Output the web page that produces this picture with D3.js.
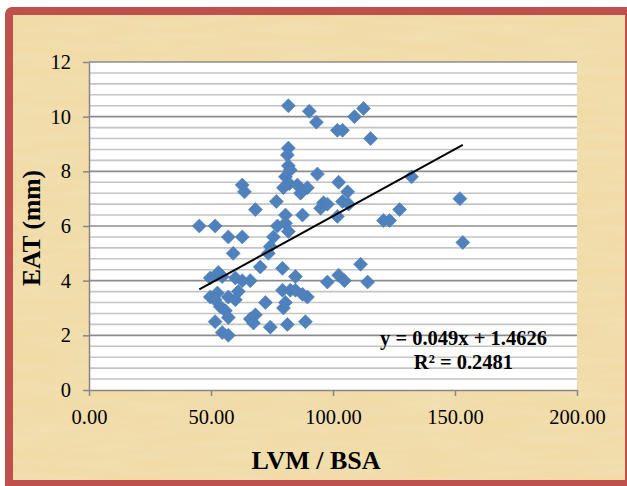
<!DOCTYPE html>
<html><head><meta charset="utf-8">
<script src="https://cdn.jsdelivr.net/npm/d3@7"></script>
<style>html,body{margin:0;padding:0;background:#fff;}svg{display:block;}</style>
</head><body>
<svg id="c" width="627" height="486"></svg>
<script>
// ---- data ----
const xValues = [81.7,90.3,93.2,101.8,103.9,108.8,112.5,115.4,81.7,81.3,81.7,82.5,80.5,82.1,79.7,62.8,63.7,85.4,86.7,89.5,
  76.8,68.2,80.5,87.5,93.6,102.3,106.0,103.9,106.4,96.1,94.9,97.7,101.8,120.7,123.2,127.3,132.2,152.0,153.2,111.3,
  97.7,102.3,104.7,114.2,89.5,88.7,45.2,51.7,57.1,62.8,59.1,77.2,80.5,81.7,75.6,74.3,73.5,70.2,79.3,84.6,
  49.7,53.0,54.6,60.0,62.8,66.1,49.7,52.6,51.7,57.1,61.2,60.0,53.8,55.9,57.1,51.7,54.6,57.1,66.1,68.2,
  67.4,72.3,74.3,79.3,80.5,82.5,84.6,87.5,81.3,79.7];
const yValues = [10.4,10.2,9.8,9.5,9.5,10.0,10.3,9.2,8.85,8.6,8.2,8.05,7.8,7.55,7.4,7.5,7.25,7.5,7.2,7.4,
  6.9,6.6,6.4,6.4,7.9,7.6,7.25,6.9,6.8,6.85,6.65,6.8,6.35,6.2,6.2,6.6,7.8,7.0,5.4,4.6,
  3.95,4.2,4.0,3.95,3.4,2.5,6.0,6.0,5.6,5.6,5.0,6.0,6.1,5.8,5.6,5.25,5.0,4.5,4.45,4.15,
  4.1,4.3,4.15,4.1,4.0,4.0,3.4,3.55,3.3,3.4,3.6,3.3,3.05,2.9,2.65,2.5,2.1,2.0,2.6,2.75,
  2.45,3.2,2.3,3.65,3.2,3.65,3.65,3.5,2.4,3.0];
const xTicks = [0,50,100,150,200];
const yTicks = [0,2,4,6,8,10,12];
const trendSlope = 0.049, trendIntercept = 1.4626;
const equationText = "y = 0.049x + 1.4626";
const r2Text = "R² = 0.2481";
const xTitle = "LVM / BSA", yTitle = "EAT (mm)";

// ---- drawing ----
const serif = "'Liberation Serif', 'Times New Roman', serif";
const svg = d3.select("#c");
const defs = svg.append("defs");
const f = defs.append("filter").attr("id","pap").attr("x",0).attr("y",0).attr("width","100%").attr("height","100%");
f.append("feTurbulence").attr("type","fractalNoise").attr("baseFrequency","0.015 0.12").attr("numOctaves",3).attr("seed",4).attr("result","n");
f.append("feColorMatrix").attr("in","n").attr("type","matrix")
  .attr("values","0 0 0 0 0.93  0 0 0 0 0.82  0 0 0 0 0.58  0.5 0 0 0 -0.1").attr("result","c");
f.append("feComposite").attr("in","c").attr("in2","SourceGraphic").attr("operator","over");

// frame
svg.append("rect").attr("x",5).attr("y",7).attr("width",640).attr("height",500).attr("rx",7).attr("fill","#c0504d");
svg.append("rect").attr("x",13).attr("y",15).attr("width",612).attr("height",465).attr("fill","#f1dca6");
svg.append("rect").attr("x",13).attr("y",15).attr("width",612).attr("height",465).attr("fill","#f1dca6").attr("filter","url(#pap)").attr("opacity",0.9);

const x = d3.scaleLinear().domain([0,200]).range([89,577]);
const y = d3.scaleLinear().domain([0,12]).range([390,62]);

svg.append("rect").attr("x",x(0)).attr("y",y(12)).attr("width",x(200)-x(0)).attr("height",y(0)-y(12)).attr("fill","#fff");

// gridlines
const minor = d3.range(0, 12.001, 0.4).filter(v => Math.abs(v/2 - Math.round(v/2)) > 0.01);
svg.append("g").selectAll("line").data(minor).join("line")
  .attr("x1",x(0)).attr("x2",x(200)).attr("y1",d=>y(d)).attr("y2",d=>y(d))
  .attr("stroke","#c4c4c4").attr("stroke-width",1.6);
svg.append("g").selectAll("line").data(yTicks.filter(d=>d>0)).join("line")
  .attr("x1",x(0)).attr("x2",x(200)).attr("y1",d=>y(d)).attr("y2",d=>y(d))
  .attr("stroke","#8c8c8c").attr("stroke-width",1.6);

// axes
const xAxis = d3.axisBottom(x).tickValues(xTicks).tickFormat(d3.format(".2f")).tickSizeOuter(0).tickSizeInner(6).tickPadding(6);
const yAxis = d3.axisLeft(y).tickValues(yTicks).tickFormat(d3.format("d")).tickSizeOuter(0).tickSizeInner(6).tickPadding(12);
const gx = svg.append("g").attr("transform",`translate(0,${y(0)})`).call(xAxis);
const gy = svg.append("g").attr("transform",`translate(${x(0)},0)`).call(yAxis);
[gx,gy].forEach(g=>{
  g.selectAll("path,line").attr("stroke","#868686").attr("stroke-width",1.5);
  g.selectAll("text").attr("font-family",serif).attr("font-size",20.5).attr("fill","#000");
});
gx.selectAll("text").attr("y",34).attr("dy",0);

// points
const diamond = "M0,-7L7,0L0,7L-7,0Z";
svg.append("g").selectAll("path").data(xValues.map((v,i)=>[v,yValues[i]])).join("path")
  .attr("d",diamond).attr("transform",d=>`translate(${x(d[0])},${y(d[1])})`)
  .attr("fill","#4f81bd").attr("stroke","#4a7cb8").attr("stroke-width",0.6);

// trendline
const xmin = d3.min(xValues), xmax = d3.max(xValues);
svg.append("line").attr("x1",x(xmin)).attr("y1",y(trendSlope*xmin+trendIntercept))
  .attr("x2",x(xmax)).attr("y2",y(trendSlope*xmax+trendIntercept))
  .attr("stroke","#000").attr("stroke-width",2);

// equation
const eq = svg.append("g").attr("font-family",serif).attr("font-weight","bold").attr("font-size",20.5).attr("fill","#000").attr("text-anchor","middle");
eq.append("text").attr("x",463.5).attr("y",345).text(equationText);
eq.append("text").attr("x",463.5).attr("y",369).text(r2Text);

// titles
svg.append("text").attr("x",316).attr("y",469).attr("text-anchor","middle")
  .attr("font-family",serif).attr("font-weight","bold").attr("font-size",26).text(xTitle);
svg.append("text").attr("transform","translate(40,228) rotate(-90)").attr("text-anchor","middle")
  .attr("font-family",serif).attr("font-weight","bold").attr("font-size",25.5).text(yTitle);
</script>
</body></html>
